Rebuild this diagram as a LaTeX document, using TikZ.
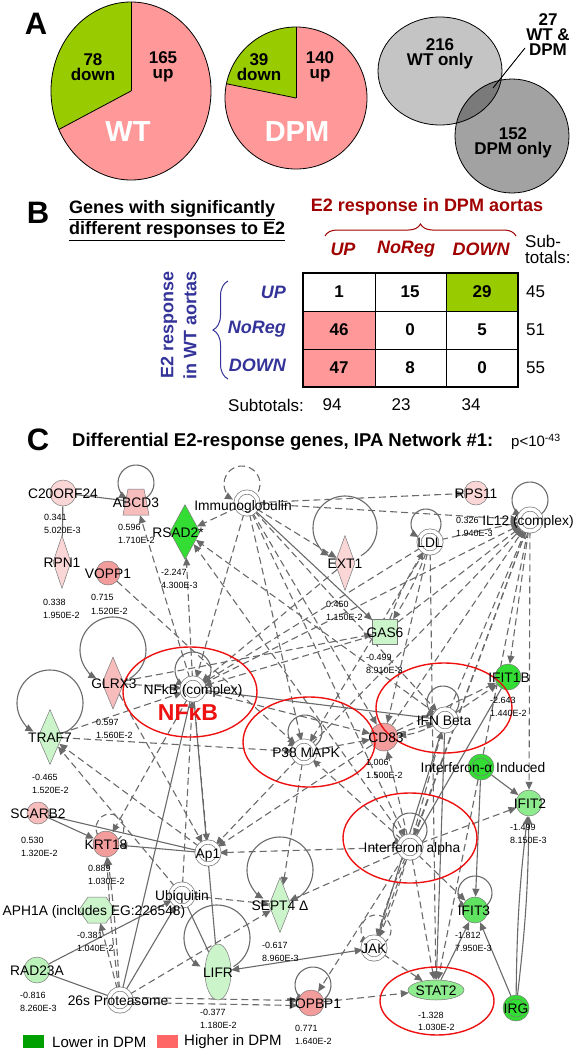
\documentclass[tikz,border=0pt]{standalone}
\usepackage{fontspec}
\setmainfont{Liberation Sans}
\usetikzlibrary{shapes.geometric,arrows.meta,decorations.pathreplacing,calc}
\pgfdeclarelayer{bg}
\pgfsetlayers{bg,main}
\definecolor{pieG}{HTML}{99CC00}
\definecolor{pieP}{HTML}{FF9999}
\definecolor{dred}{HTML}{A00000}
\definecolor{dblue}{HTML}{333399}
\definecolor{vennA}{HTML}{C4C4C4}
\definecolor{vennB}{HTML}{A2A2A2}
\definecolor{vennC}{HTML}{7A7A7A}
\definecolor{pk1}{HTML}{FAD6D6}
\definecolor{pk2}{HTML}{F7BDBD}
\definecolor{pk3}{HTML}{F29C9C}
\definecolor{gr1}{HTML}{33DD33}
\definecolor{gr2}{HTML}{60E360}
\definecolor{gr3}{HTML}{8EEB8E}
\definecolor{gr4}{HTML}{CBF4CB}
\definecolor{lnc}{HTML}{6A6A6A}
\definecolor{bdc}{HTML}{7A7A7A}
\definecolor{ired}{HTML}{EE1111}
\definecolor{legG}{HTML}{00A000}
\definecolor{legP}{HTML}{FF6666}
\newcommand{\myfs}[1]{\fontsize{#1}{#1}\selectfont}
\newcommand{\sloop}[3][]{\draw[lp,#1] (#2) ++(-60:#3pt) arc[start angle=-60,end angle=240,radius=#3pt];}
\tikzset{
  nd/.style={draw=bdc, line width=0.5pt, inner sep=0pt},
  cir/.style={circle, nd, minimum size=#1},
  dia/.style={diamond, nd},
  ell/.style={ellipse, nd},
  sq/.style={rectangle, nd, minimum size=25pt},
  dbl/.style={circle, draw=bdc, line width=0.7pt, double=white, double distance=3.5pt, fill=white, minimum size=22pt, inner sep=0pt},
  lbl/.style={font=\myfs{13.8}, inner sep=0pt, text height=10pt, text depth=0pt},
  val/.style={font=\myfs{9}, anchor=west, inner sep=0pt, text height=6.5pt, text depth=0pt},
  de/.style={draw=lnc, line width=1.1pt, dash pattern=on 7pt off 4pt, -{Triangle[length=8pt,width=7pt]}},
  dn/.style={draw=lnc, line width=1.1pt, dash pattern=on 7pt off 4pt},
  se/.style={draw=lnc, line width=1.1pt, -{Triangle[length=8pt,width=7pt]}},
  sn/.style={draw=lnc, line width=1.1pt},
  lp/.style={draw=lnc, line width=1.1pt, -{Triangle[length=8pt,width=7pt]}},
  rell/.style={draw=ired, line width=1.4pt},
  bA/.style={font=\bfseries\myfs{17}, inner sep=0pt, align=center},
  bB/.style={font=\bfseries\myfs{18}, inner sep=0pt},
  rB/.style={font=\myfs{17}, inner sep=0pt},
}
\begin{document}
\begin{tikzpicture}[x=1pt,y=-1pt]
\useasboundingbox (0,0) rectangle (573,1050);

% ================= Panel A =================
\node[font=\bfseries\myfs{31}, inner sep=0pt] (labA) at (36,24) {A};
% WT pie
\fill[pieP] (131,91) ellipse[x radius=80pt, y radius=89pt];
\fill[pieG] (131,91) -- ++(0pt,89pt) arc[start angle=90,end angle=205.6,x radius=80pt,y radius=89pt] -- cycle;
\draw[line width=0.8pt] (131,91) ellipse[x radius=80pt, y radius=89pt];
\draw[line width=0.8pt] (131,91) -- ++(0pt,89pt);
\draw[line width=0.8pt] (131,91) -- ++(205.6:80pt and 89pt);
\node[bA] (wtd) at (93,67) {78\\[-2pt]down};
\node[bA] (wtu) at (163,67) {165\\[-2pt]up};
\node[font=\bfseries\myfs{29}, text=white, inner sep=0pt] (wtl) at (128,132) {WT};
% DPM pie
\fill[pieP] (296,98) ellipse[x radius=71pt, y radius=71pt];
\fill[pieG] (296,98) -- ++(0pt,71pt) arc[start angle=90,end angle=168.4,x radius=71pt,y radius=71pt] -- cycle;
\draw[line width=0.8pt] (296,98) ellipse[x radius=71pt, y radius=71pt];
\draw[line width=0.8pt] (296,98) -- ++(0pt,71pt);
\draw[line width=0.8pt] (296,98) -- ++(168.4:71pt and 71pt);
\node[bA] (dpd) at (259,67) {39\\[-2pt]down};
\node[bA] (dpu) at (320,67) {140\\[-2pt]up};
\node[font=\bfseries\myfs{29}, text=white, inner sep=0pt] (dpl) at (297,132) {DPM};
% Venn
\fill[vennA] (440,71) ellipse[x radius=62pt, y radius=54pt];
\fill[vennB] (512,136) circle[radius=57pt];
\begin{scope}
  \clip (440,71) ellipse[x radius=62pt, y radius=54pt];
  \fill[vennC] (512,136) circle[radius=57pt];
\end{scope}
\draw[line width=0.8pt] (440,71) ellipse[x radius=62pt, y radius=54pt];
\draw[line width=0.8pt] (512,136) circle[radius=57pt];
\node[bA] (v1) at (440,54) {216\\[-2pt]WT only};
\node[bA] (v2) at (513,143) {152\\[-2pt]DPM only};
\node[bA] (v3) at (548,35) {27\\[-2pt]WT \&\\[-2pt]DPM};
\coordinate (vp1) at (493,88);
\coordinate (vp2) at (525,48);
\draw[line width=0.9pt] (vp1) -- (vp2);

% ================= Panel B =================
\node[font=\bfseries\myfs{31}, inner sep=0pt] (labB) at (38,213) {B};
\node[bB, anchor=west] (bh1) at (69,210) {\underline{Genes with significantly}};
\node[bB, anchor=west] (bh2) at (69,231) {\underline{different responses to E2}};
\node[bB, text=dred] (bh3) at (427,207) {E2 response in DPM aortas};
\draw[dred, line width=1pt, decorate, decoration={brace, amplitude=12pt}] (325,236) -- (516,236);
\node[bB, text=dred, font=\bfseries\itshape\myfs{18}] (cu) at (343,249) {UP};
\node[bB, text=dred, font=\bfseries\itshape\myfs{18}] (cn) at (406,249) {NoReg};
\node[bB, text=dred, font=\bfseries\itshape\myfs{18}] (cd) at (481,249) {DOWN};
\node[rB, anchor=west, align=left] (subt) at (525,249) {Sub-\\[-1pt]totals:};
% table
\fill[white] (303,273) rectangle (518,387);
\fill[pieG] (446,273) rectangle (518,311);
\fill[pieP] (303,311) rectangle (375,387);
\draw[line width=0.9pt] (375,273) -- (375,387) (446,273) -- (446,387) (303,311) -- (518,311) (303,349) -- (518,349);
\draw[line width=2.6pt] (303,273) rectangle (518,387);
\node[bB, font=\bfseries\myfs{17}] (t11) at (339,292) {1};
\node[bB, font=\bfseries\myfs{17}] (t12) at (410,292) {15};
\node[bB, font=\bfseries\myfs{17}] (t13) at (482,292) {29};
\node[bB, font=\bfseries\myfs{17}] (t21) at (339,330) {46};
\node[bB, font=\bfseries\myfs{17}] (t22) at (410,330) {0};
\node[bB, font=\bfseries\myfs{17}] (t23) at (482,330) {5};
\node[bB, font=\bfseries\myfs{17}] (t31) at (339,368) {47};
\node[bB, font=\bfseries\myfs{17}] (t32) at (410,368) {8};
\node[bB, font=\bfseries\myfs{17}] (t33) at (482,368) {0};
\node[rB, anchor=west] (s1) at (526,292) {45};
\node[rB, anchor=west] (s2) at (526,330) {51};
\node[rB, anchor=west] (s3) at (526,368) {55};
\node[font=\bfseries\itshape\myfs{18}, text=dblue, inner sep=0pt, anchor=east] (ru) at (286,292) {UP};
\node[font=\bfseries\itshape\myfs{18}, text=dblue, inner sep=0pt, anchor=east] (rn) at (286,329) {NoReg};
\node[font=\bfseries\itshape\myfs{18}, text=dblue, inner sep=0pt, anchor=east] (rd) at (286,365) {DOWN};
\draw[dblue, line width=1pt, decorate, decoration={brace, amplitude=15pt}] (228,379) -- (228,281);
\node[bB, text=dblue, rotate=90] (rl1) at (169,325) {E2 response};
\node[bB, text=dblue, rotate=90] (rl2) at (190,325) {in WT aortas};
\node[rB] (subl) at (266,405) {Subtotals:};
\node[rB] (sb1) at (332,405) {94};
\node[rB] (sb2) at (401,405) {23};
\node[rB] (sb3) at (471,405) {34};

% ================= Panel C =================
\node[font=\bfseries\myfs{31}, inner sep=0pt] (labC) at (38,440) {C};
\node[font=\bfseries\myfs{18.5}, inner sep=0pt, anchor=west] (ctit) at (72,442) {Differential E2-response genes, IPA Network \#1:};
\node[font=\myfs{15}, inner sep=0pt, anchor=west] (cp) at (511,442) {p<10\textsuperscript{-43}};

% nodes
\node[cir=26pt, fill=pk1] (c20) at (63,493) {};
\node[rectangle, minimum width=25pt, minimum height=26pt, inner sep=0pt] (abcd) at (136,502) {};
\draw[nd, fill=pk2] (abcd.center) ++(-8,-13) -- ++(16,0) -- ++(5,26) -- ++(-26,0) -- cycle;
\node[dia, fill=gr1, minimum width=30pt, minimum height=55pt] (rsad) at (185,532) {};
\node[dbl] (imm) at (247,503) {};
\node[dia, fill=pk1, minimum width=18pt, minimum height=53pt] (rpn1) at (62,562) {};
\node[cir=24pt, fill=pk3] (vopp) at (108,573) {};
\node[cir=24pt, fill=pk1] (rps11) at (476,493) {};
\node[dbl] (il12) at (530,520) {};
\node[dbl] (ldl) at (430,542) {};
\node[dia, fill=pk1, minimum width=20pt, minimum height=55pt] (ext1) at (345,563) {};
\node[sq, fill=gr4] (gas6) at (385,632) {};
\node[dia, fill=pk2, minimum width=22pt, minimum height=52pt] (glrx3) at (113,683) {};
\node[dbl] (nfkb) at (193,689) {};
\node[dia, fill=gr4, minimum width=24pt, minimum height=55pt] (traf7) at (50,737) {};
\node[cir=22pt, fill=pk2] (scarb2) at (38,813) {};
\node[cir=26pt, fill=gr1] (ifit1b) at (508,677) {};
\node[dbl] (ifnb) at (445,720) {};
\node[cir=28pt, fill=pk3] (cd83) at (384,737) {};
\node[dbl] (p38) at (304,752) {};
\node[cir=26pt, fill=gr1] (ifnaind) at (481,767) {};
\node[cir=26pt, fill=gr3] (ifit2) at (529,803) {};
\node[dbl] (ifna) at (410,847) {};
\node[cir=26pt, fill=pk3] (krt18) at (106,844) {};
\node[dbl] (ap1) at (208,853) {};
\node[dbl] (ubq) at (182,895) {};
\node[ellipse, minimum width=36pt, minimum height=26pt, inner sep=0pt] (aph1a) at (97,910) {};
\draw[nd, fill=gr4] (aph1a.center) ++(-18,0) -- ++(9,-13) -- ++(18,0) -- ++(9,13) -- ++(-9,13) -- ++(-18,0) -- cycle;
\node[cir=26pt, fill=gr4!70!gr3] (rad23) at (37,970) {};
\node[dbl] (p26) at (120,1000) {};
\node[ell, fill=gr4, minimum width=26pt, minimum height=56pt] (lifr) at (218,972) {};
\node[dia, fill=gr4, minimum width=22pt, minimum height=55pt] (sept4) at (280,905) {};
\node[cir=26pt, fill=gr2] (ifit3) at (475,910) {};
\node[dbl] (jak) at (374,948) {};
\node[ell, fill=gr3, minimum width=56pt, minimum height=20pt] (stat2) at (436,990) {};
\node[cir=26pt, fill=pk3] (topbp1) at (311,1003) {};
\node[cir=26pt, fill=gr1] (irg) at (516,1008) {};
\draw[bdc, line width=0.5pt] (ifnaind.center) circle[radius=9pt];
\draw[bdc, line width=0.5pt] (irg.center) circle[radius=9pt];

\begin{pgfonlayer}{bg}
% self loops
\sloop{136,483}{18}
\sloop[dash pattern=on 7pt off 4pt]{242,484}{18}
\sloop{530,500}{18}
\sloop{426,524}{15}
\sloop{345,528}{32}
\sloop{113,650}{33}
\sloop{193,670}{18}
\sloop{50,703}{33}
\sloop{305,732}{17}
\sloop{443,702}{16}
\sloop{410,830}{17}
\sloop[dash pattern=on 6pt off 4pt]{110,828}{14}
\sloop{280,870}{33}
\sloop{217,938}{33}
\sloop{475,893}{17}
\sloop[dash pattern=on 6pt off 4pt]{376,930}{15}
\sloop{313,985}{18}
% solid, no arrow
\draw[sn] (c20) -- (abcd);
\draw[sn] (c20) -- (rpn1);
\draw[sn] (nfkb) -- (ifnb);
\draw[sn] (nfkb) -- (p26);
\draw[sn] (nfkb) -- (lifr);
\draw[sn] (rad23) -- (p26);
\draw[sn] (ubq) -- (lifr);
\draw[sn] (scarb2) -- (ap1);
\draw[sn] (ifit1b) -- (ifna);
% solid arrows
\draw[se] (imm) -- (gas6);
\draw[se] (p26) -- (ubq);
\draw[se] (rad23) -- (ubq);
\draw[se] (scarb2) -- (krt18);
\draw[se] (ap1) -- (krt18);
\draw[se] (stat2) -- (ifit3);
\draw[se] (irg) -- (ifit3);
\draw[se] (irg) to[bend left=3] (ifit2);
\draw[se] (irg) to[bend right=3] (ifit2);
\draw[se] (ifnaind) -- (ifit3);
\draw[se] (ifnaind) -- (ifit2);
\draw[se, {Triangle[length=8pt,width=7pt]}-{Triangle[length=8pt,width=7pt]}] (lifr) -- (jak);
\draw[se] (ifnb) -- (stat2);
\draw[se] (ifnb) -- (jak);
% dashed arrows
\draw[de] (imm) -- (rsad);
\draw[de] (imm) -- (rps11);
\draw[de] (imm) -- (il12);
\draw[de] (imm) -- (ext1);
\draw[de] (imm) -- (nfkb);
\draw[de] (imm) -- (p38);
\draw[de] (imm) -- (cd83);
\draw[de] (imm) -- (ifna);
\draw[de] (imm) -- (ifnb);
\draw[de] (nfkb) -- (abcd);
\draw[de] (nfkb) -- (rsad);
\draw[de] (ifnb) -- (rsad);
\draw[de] (ifna) -- (rsad);
\draw[de] (vopp) -- (p38);
\draw[de] (ldl) -- (il12);
\draw[de] (ldl) to[bend left=6] (gas6);
\draw[de] (gas6) to[bend left=6] (ldl);
\draw[de] (gas6) -- (il12);
\draw[de] (nfkb) -- (il12);
\draw[de] (p38) -- (il12);
\draw[de] (cd83) -- (il12);
\draw[de] (ifnb) -- (il12);
\draw[de] (il12) -- (ifit1b);
\draw[de] (il12) -- (ifit2);
\draw[de] (il12) -- (ifna);
\draw[de] (il12) -- (stat2);
\draw[de] (il12) -- (jak);
\draw[de] (ldl) -- (stat2);
\draw[de] (ldl) -- (cd83);
\draw[de] (ldl) -- (nfkb);
\draw[de] (ldl) -- (p38);
\draw[de] (glrx3) -- (gas6);
\draw[de] (ext1) -- (nfkb);
\draw[de] (traf7) -- (nfkb);
\draw[de] (traf7) -- (p38);
\draw[de] (ap1) -- (traf7);
\draw[de] (ubq) -- (traf7);
\draw[de] (glrx3) -- (nfkb);
\draw[de] (glrx3) -- (ap1);
\draw[de] (p26) to[bend left=2] (krt18);
\draw[de] (p26) to[bend right=2] (krt18);
\draw[de] (p26) -- (aph1a);
\draw[de] (p26) -- (sept4);
\draw[de] ([yshift=2.5pt]p26.east) -- ([yshift=2.5pt]topbp1.west);
\draw[de] ([yshift=-2.5pt]p26.east) -- ([yshift=-2.5pt]topbp1.west);
\draw[de] (ubq) -- (nfkb);
\draw[de] (ubq) -- (sept4);
\draw[de] (ifna) -- (ap1);
\draw[de] (ifna) -- (sept4);
\draw[de] (p38) -- (sept4);
\draw[de] (ifna) to[bend right=4] (jak);
\draw[de] (ifna) to[bend left=4] (jak);
\draw[de] (ifna) -- (topbp1);
\draw[de] (ifna) -- (stat2);
\draw[de] (ifna) -- (ifit3);
\draw[de] (ifna) -- (ifit2);
\draw[de] (ifna) -- (cd83);
\draw[de] (ifna) -- (ifnb);
\draw[de] (ifna) -- (p38);
\draw[de] (jak) -- (stat2);
\draw[de] (topbp1) -- (stat2);
\draw[de] (ifnb) -- (ifit1b);
\draw[de] (cd83) -- (ifnb);
\draw[de] (ifnb) to[bend left=10] (cd83);
\draw[de] (p38) -- (cd83);
\draw[de] (nfkb) -- (cd83);
\draw[de] (cd83) -- (ifit1b);
\draw[de] (p38) -- (ap1);
\draw[de] (nfkb) -- (ap1);
\draw[de] (cd83) -- (ap1);
\draw[de] (nfkb) -- (krt18);
\draw[de] (gas6) -- (nfkb);
\end{pgfonlayer}

% red highlight ellipses
\draw[rell] (190,692) ellipse[x radius=67pt, y radius=45pt];
\draw[rell] (309,742) ellipse[x radius=66pt, y radius=45pt];
\draw[rell] (444,708) ellipse[x radius=68pt, y radius=45pt];
\draw[rell] (410,838) ellipse[x radius=67pt, y radius=45pt];
\draw[rell] (437,1001) ellipse[x radius=57pt, y radius=34pt];

% labels
\node[lbl] (Lc20) at (63,493) {C20ORF24};
\node[lbl] (Labcd) at (136,502) {ABCD3};
\node[lbl] (Lrsad) at (178,532) {RSAD2*};
\node[lbl] (Limm) at (243,505) {Immunoglobulin};
\node[lbl] (Lrpn1) at (62,562) {RPN1};
\node[lbl] (Lvopp) at (108,573) {VOPP1};
\node[lbl] (Lrps11) at (476,493) {RPS11};
\node[lbl] (Lil12) at (528,520) {IL12 (complex)};
\node[lbl] (Lldl) at (430,542) {LDL};
\node[lbl] (Lext1) at (345,563) {EXT1};
\node[lbl] (Lgas6) at (385,632) {GAS6};
\node[lbl] (Lglrx3) at (114,683) {GLRX3};
\node[lbl] (Lnfkb) at (193,689) {NFkB (complex)};
\node[font=\bfseries\myfs{23}, text=ired, inner sep=0pt] (Lnfkbr) at (188,713) {NFκB};
\node[lbl] (Ltraf7) at (50,737) {TRAF7};
\node[lbl] (Lscarb2) at (38,813) {SCARB2};
\node[lbl] (Lifit1b) at (509,677) {IFIT1B};
\node[lbl] (Lifnb) at (444,720) {IFN Beta};
\node[lbl] (Lcd83) at (386,737) {CD83};
\node[lbl] (Lp38) at (306,752) {P38 MAPK};
\node[lbl] (Lifnaind) at (483,767) {Interferon-α Induced};
\node[lbl] (Lifit2) at (530,803) {IFIT2};
\node[lbl] (Lifna) at (412,847) {Interferon alpha};
\node[lbl] (Lkrt18) at (106,844) {KRT18};
\node[lbl] (Lap1) at (208,853) {Ap1};
\node[lbl] (Lubq) at (182,895) {Ubiquitin};
\node[lbl] (Laph1a) at (94,910) {APH1A (includes EG:226548)};
\node[lbl] (Lrad23) at (37,970) {RAD23A};
\node[lbl] (Lp26) at (118,1000) {26s Proteasome};
\node[lbl] (Llifr) at (218,972) {LIFR};
\node[lbl] (Lsept4) at (280,905) {SEPT4 Δ};
\node[lbl] (Lifit3) at (474,910) {IFIT3};
\node[lbl] (Ljak) at (374,948) {JAK};
\node[lbl] (Lstat2) at (436,990) {STAT2};
\node[lbl] (Ltopbp1) at (314,1003) {TOPBP1};
\node[lbl] (Lirg) at (516,1008) {IRG};

% values
\node[val] (v01a) at (44,517) {0.341};   \node[val] (v01b) at (44,530) {5.020E-3};
\node[val] (v02a) at (118,527) {0.596};  \node[val] (v02b) at (118,540) {1.710E-2};
\node[val] (v03a) at (161,572) {-2.247}; \node[val] (v03b) at (161,585) {4.300E-3};
\node[val] (v04a) at (43,602) {0.338};   \node[val] (v04b) at (43,615) {1.950E-2};
\node[val] (v05a) at (91,597) {0.715};   \node[val] (v05b) at (91,611) {1.520E-2};
\node[val] (v06a) at (456,520) {0.326};  \node[val] (v06b) at (456,533) {1.940E-3};
\node[val] (v07a) at (326,604) {0.450};  \node[val] (v07b) at (326,617) {1.150E-2};
\node[val] (v08a) at (366,657) {-0.499}; \node[val] (v08b) at (366,670) {8.910E-3};
\node[val] (v09a) at (96,722) {0.597};   \node[val] (v09b) at (96,735) {1.560E-2};
\node[val] (v10a) at (32,777) {-0.465};  \node[val] (v10b) at (32,790) {1.520E-2};
\node[val] (v11a) at (21,840) {0.530};   \node[val] (v11b) at (21,853) {1.320E-2};
\node[val] (v12a) at (490,700) {-2.643}; \node[val] (v12b) at (490,713) {1.440E-2};
\node[val] (v13a) at (366,762) {1.006};  \node[val] (v13b) at (366,775) {1.500E-2};
\node[val] (v14a) at (510,827) {-1.499}; \node[val] (v14b) at (510,840) {8.150E-3};
\node[val] (v15a) at (88,868) {0.889};   \node[val] (v15b) at (88,881) {1.030E-2};
\node[val] (v16a) at (77,935) {-0.381};  \node[val] (v16b) at (77,948) {1.040E-2};
\node[val] (v17a) at (20,995) {-0.816};  \node[val] (v17b) at (20,1008) {8.260E-3};
\node[val] (v18a) at (200,1012) {-0.377}; \node[val] (v18b) at (200,1025) {1.180E-2};
\node[val] (v19a) at (262,945) {-0.617}; \node[val] (v19b) at (262,958) {8.960E-3};
\node[val] (v20a) at (455,935) {-1.812}; \node[val] (v20b) at (455,948) {7.950E-3};
\node[val] (v21a) at (418,1015) {-1.328}; \node[val] (v21b) at (418,1027) {1.030E-2};
\node[val] (v22a) at (295,1028) {0.771}; \node[val] (v22b) at (295,1041) {1.640E-2};

% legend
\node[fill=legG, minimum width=21pt, minimum height=13pt, inner sep=0pt] (lg1) at (33.5,1041.5) {};
\node[font=\myfs{15}, anchor=west, inner sep=0pt] (lg1t) at (52,1042) {Lower in DPM};
\node[fill=legP, minimum width=21pt, minimum height=13pt, inner sep=0pt] (lg2) at (167.5,1041.5) {};
\node[font=\myfs{15}, anchor=west, inner sep=0pt] (lg2t) at (184,1042) {Higher in DPM};
\end{tikzpicture}
\end{document}
